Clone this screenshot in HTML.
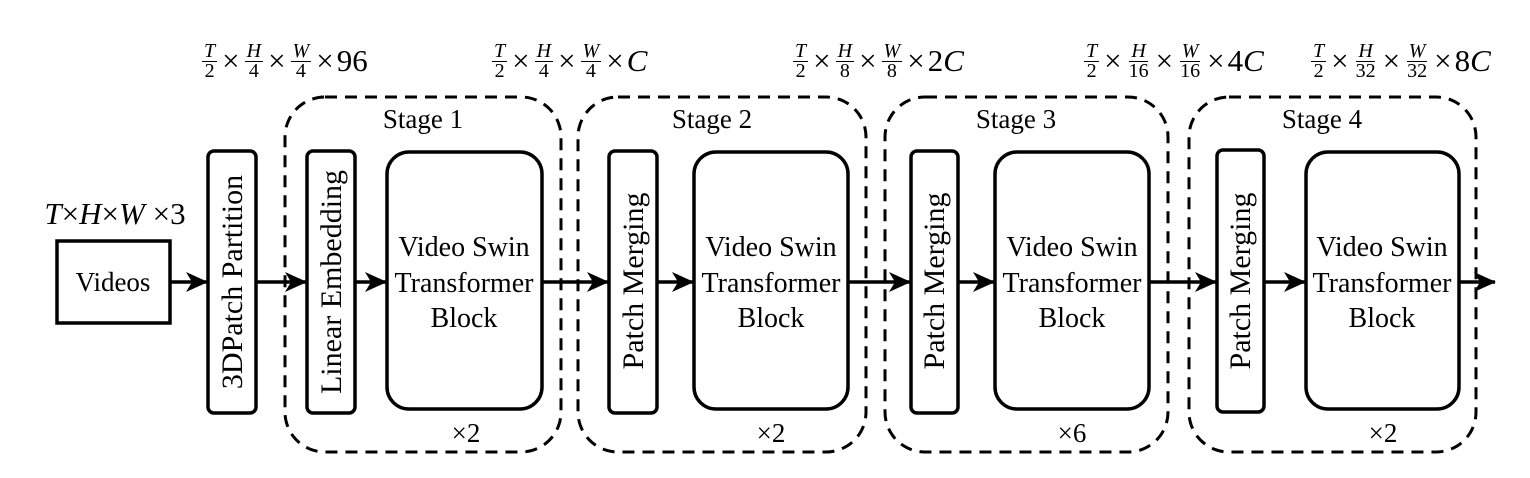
<!DOCTYPE html>
<html><head><meta charset="utf-8"><style>
body{margin:0;background:#fff;width:1530px;height:478px;overflow:hidden;position:relative;font-family:"Liberation Serif",serif;}
.lbl{position:absolute;top:38px;font-size:31px;white-space:nowrap;display:flex;align-items:center;height:46px;}
.fr{display:inline-flex;flex-direction:column;align-items:center;font-size:20px;line-height:19px;margin:0 2px;}
.fr i,.fr span{display:block;padding:0 2px;}
.fr i{border-bottom:1.4px solid #000;}
.x{margin:0 3px;}
</style></head><body>
<svg width="1530" height="478" style="position:absolute;left:0;top:0" font-family="Liberation Serif, serif">
<defs><marker id="a" markerWidth="22" markerHeight="20" refX="21" refY="10" orient="auto" markerUnits="userSpaceOnUse" viewBox="0 0 22 20"><path d="M0,0 L22,10 L0,20 L6,10z" fill="#000"/></marker></defs>
<g fill="none" stroke="#000" stroke-width="3" stroke-dasharray="12,8">
<rect x="285" y="97" width="276" height="355" rx="40"/>
<rect x="578" y="97" width="288" height="355" rx="40"/>
<rect x="885" y="97" width="283" height="355" rx="40"/>
<rect x="1189" y="97" width="287" height="355" rx="40"/>
</g>
<g fill="#fff" stroke="#000" stroke-width="3.5">
<rect x="57" y="241" width="113" height="82"/>
<rect x="208" y="151" width="48" height="262" rx="6"/>
<rect x="307" y="151" width="48" height="262" rx="6"/>
<rect x="387" y="152" width="155" height="257" rx="22"/>
<rect x="609" y="151" width="48" height="262" rx="6"/>
<rect x="694" y="152" width="154" height="257" rx="22"/>
<rect x="911" y="151" width="47" height="262" rx="6"/>
<rect x="995" y="152" width="154" height="257" rx="22"/>
<rect x="1217" y="150" width="47" height="262" rx="6"/>
<rect x="1306" y="152" width="153" height="257" rx="22"/>
</g>
<g stroke="#000" stroke-width="3.5" marker-end="url(#a)">
<line x1="170" y1="282" x2="207" y2="282"/>
<line x1="256" y1="282" x2="306" y2="282"/>
<line x1="355" y1="282" x2="386" y2="282"/>
<line x1="542" y1="282" x2="608" y2="282"/>
<line x1="657" y1="282" x2="693" y2="282"/>
<line x1="848" y1="282" x2="910" y2="282"/>
<line x1="958" y1="282" x2="994" y2="282"/>
<line x1="1149" y1="282" x2="1216" y2="282"/>
<line x1="1264" y1="282" x2="1305" y2="282"/>
<line x1="1459" y1="282" x2="1495" y2="282"/>
</g>
<g font-size="27" text-anchor="middle" fill="#000">
<text x="113" y="291">Videos</text>
<text x="423" y="128">Stage 1</text><text x="712" y="128">Stage 2</text><text x="1016" y="128">Stage 3</text><text x="1322" y="128">Stage 4</text>
<g font-size="28"><text x="464" y="256">Video Swin</text><text x="464" y="292">Transformer</text><text x="464" y="327">Block</text></g>
<g font-size="28"><text x="771" y="256">Video Swin</text><text x="771" y="292">Transformer</text><text x="771" y="327">Block</text></g>
<g font-size="28"><text x="1072" y="256">Video Swin</text><text x="1072" y="292">Transformer</text><text x="1072" y="327">Block</text></g>
<g font-size="28"><text x="1382" y="256">Video Swin</text><text x="1382" y="292">Transformer</text><text x="1382" y="327">Block</text></g>
<text x="466" y="442">×2</text><text x="771" y="442">×2</text><text x="1072" y="442">×6</text><text x="1383" y="442">×2</text>
<g font-size="30">
<text transform="translate(242,282) rotate(-90)">3DPatch Partition</text>
<text transform="translate(341,282) rotate(-90)">Linear Embedding</text>
<text transform="translate(643,281) rotate(-90)">Patch Merging</text>
<text transform="translate(944,281) rotate(-90)">Patch Merging</text>
<text transform="translate(1250,281) rotate(-90)">Patch Merging</text>
</g>
<text x="115" y="224" font-size="31"><tspan font-style="italic">T</tspan>×<tspan font-style="italic">H</tspan>×<tspan font-style="italic">W</tspan> ×3</text>
</g>
</svg>
<div class="lbl" style="left:200px"><span class="fr"><i>T</i><span>2</span></span><span class="x">×</span><span class="fr"><i>H</i><span>4</span></span><span class="x">×</span><span class="fr"><i>W</i><span>4</span></span><span class="x">×</span>96</div>
<div class="lbl" style="left:490px"><span class="fr"><i>T</i><span>2</span></span><span class="x">×</span><span class="fr"><i>H</i><span>4</span></span><span class="x">×</span><span class="fr"><i>W</i><span>4</span></span><span class="x">×</span><i>C</i></div>
<div class="lbl" style="left:791px"><span class="fr"><i>T</i><span>2</span></span><span class="x">×</span><span class="fr"><i>H</i><span>8</span></span><span class="x">×</span><span class="fr"><i>W</i><span>8</span></span><span class="x">×</span>2<i>C</i></div>
<div class="lbl" style="left:1082px"><span class="fr"><i>T</i><span>2</span></span><span class="x">×</span><span class="fr"><i>H</i><span>16</span></span><span class="x">×</span><span class="fr"><i>W</i><span>16</span></span><span class="x">×</span>4<i>C</i></div>
<div class="lbl" style="left:1309px"><span class="fr"><i>T</i><span>2</span></span><span class="x">×</span><span class="fr"><i>H</i><span>32</span></span><span class="x">×</span><span class="fr"><i>W</i><span>32</span></span><span class="x">×</span>8<i>C</i></div>
</body></html>
